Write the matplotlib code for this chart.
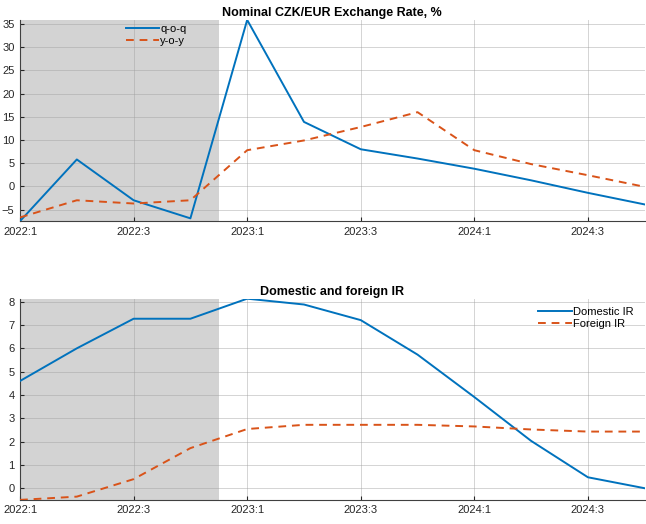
import numpy as np
import matplotlib
matplotlib.use("Agg")
import matplotlib.pyplot as plt

quarters = ["2022:1", "2022:2", "2022:3", "2022:4", "2023:1", "2023:2",
            "2023:3", "2023:4", "2024:1", "2024:2", "2024:3", "2024:4"]

# exchange rate, %
qoq = [-7.5, 5.8, -3.0, -6.9, 35.9, 13.9, 8.0, 6.0, 3.8, 1.3, -1.4, -3.9]
yoy = [-6.7, -3.0, -3.7, -3.0, 7.8, 9.9, 12.8, 16.0, 7.8, 4.8, 2.4, -0.1]

# interest rates
domestic_ir = [4.6, 6.0, 7.27, 7.27, 8.13, 7.88, 7.21, 5.73, 3.91, 2.03, 0.47, 0.0]
foreign_ir = [-0.5, -0.36, 0.39, 1.72, 2.54, 2.72, 2.72, 2.72, 2.65, 2.52, 2.43, 2.43]

hist_end = 3.5  # shaded historical range

blue = "#0072BD"
orange = "#D95319"

plt.rcParams['font.family'] = ['Liberation Sans', 'DejaVu Sans']

fig = plt.figure(figsize=(6.46, 5.24), dpi=100)
ax1 = fig.add_axes([0.031, 0.578, 0.967, 0.384])
ax2 = fig.add_axes([0.031, 0.046, 0.967, 0.384])

x = np.arange(len(quarters))
tick_pos = x[::2]
tick_lab = quarters[::2]


def style_axes(ax, title):
    ax.axvspan(0, hist_end, color="#d3d3d3", zorder=0, lw=0)
    ax.set_xlim(0, len(quarters) - 1)
    ax.set_xticks(tick_pos)
    ax.set_xticklabels(tick_lab)
    ax.grid(True, color="#a0a0a0", alpha=0.45, lw=0.7)
    ax.set_axisbelow(True)
    for s in ["top", "right"]:
        ax.spines[s].set_visible(False)
    for s in ["left", "bottom"]:
        ax.spines[s].set_color("#404040")
        ax.spines[s].set_linewidth(0.8)
    ax.tick_params(direction="in", length=3, labelsize=8, colors="#262626", pad=4)
    ax.set_title(title, fontsize=9, fontweight="bold", pad=3)


ax1.plot(x, qoq, color=blue, lw=1.4, label="q-o-q", zorder=3)
ax1.plot(x, yoy, color=orange, lw=1.4, ls=(0, (4, 3)), label="y-o-y", zorder=3)
style_axes(ax1, "Nominal CZK/EUR Exchange Rate, %")
ax1.set_ylim(min(qoq), max(qoq))
ax1.set_yticks(np.arange(-5, 36, 5))
ax1.legend(loc="upper left", bbox_to_anchor=(0.153, 1.03), frameon=False,
           fontsize=8, handlelength=3.0, handletextpad=0.1, labelspacing=0.2)

ax2.plot(x, domestic_ir, color=blue, lw=1.4, label="Domestic IR", zorder=3)
ax2.plot(x, foreign_ir, color=orange, lw=1.4, ls=(0, (4, 3)), label="Foreign IR", zorder=3)
style_axes(ax2, "Domestic and foreign IR")
ax2.set_ylim(min(foreign_ir), max(domestic_ir))
ax2.set_yticks(np.arange(0, 9, 1))
ax2.legend(loc="upper right", bbox_to_anchor=(0.998, 1.01), frameon=False,
           fontsize=8, handlelength=3.0, handletextpad=0.1, labelspacing=0.2)

fig.savefig("out.png", dpi=100)
